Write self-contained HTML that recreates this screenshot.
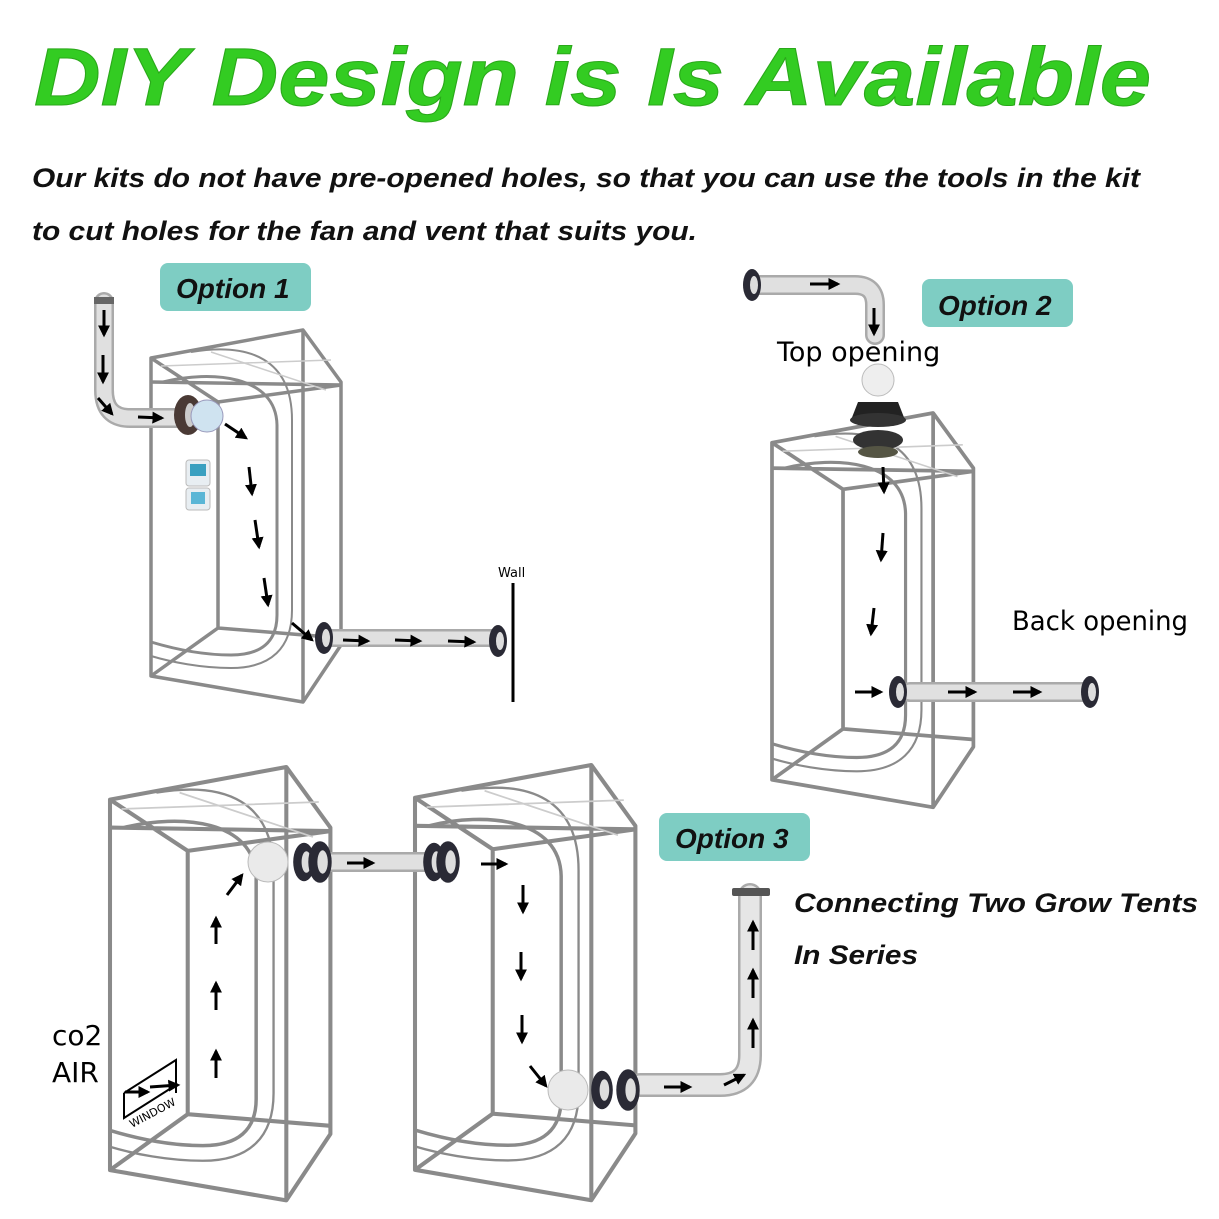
<!DOCTYPE html>
<html><head><meta charset="utf-8"><style>
body{margin:0;background:#fff;}
svg{display:block}
.t{font-family:"Liberation Sans",sans-serif;font-style:italic;font-weight:bold}
.n{font-family:"DejaVu Sans","Liberation Sans",sans-serif}
</style></head><body>
<svg width="1219" height="1219" viewBox="0 0 1219 1219" xmlns="http://www.w3.org/2000/svg">
<defs>
<marker id="a" viewBox="0 0 10 10" refX="8" refY="5" markerWidth="4" markerHeight="4" orient="auto"><path d="M0,0L10,5L0,10Z" fill="#000"/></marker>
<g id="tent" fill="none" stroke="#8a8a8a" stroke-width="3.5" stroke-linejoin="round">
<path d="M0,28 L152,0 L190,52 L190,315 L152,372 L0,346 Z"/>
<path d="M152,0 V372"/>
<path d="M67,72 V298 L190,308 M67,72 L190,55 M0,346 L67,298 M0,28 L67,72 M0,52 L190,55"/>
<path d="M12,52 C60,40 125,45 126,95 V285 C126,312 110,325 80,325 C50,325 20,318 0,312" stroke-width="3"/>
<path d="M40,22 C100,12 141,30 141,90 V280 C141,318 120,338 80,338 C50,338 20,332 0,326" stroke-width="2"/>
<path d="M10,36 L180,30 M60,22 L175,60" stroke="#ccc" stroke-width="1.5"/>
</g>
<g id="fl"><ellipse cx="0" cy="0" rx="9" ry="16" fill="#2a2a35"/><ellipse cx="2" cy="0" rx="4" ry="9" fill="#ddd"/></g>
</defs>

<text x="34" y="105" class="t" font-size="82" fill="#33cc22" stroke="#2aa81a" stroke-width="1" textLength="1117" lengthAdjust="spacingAndGlyphs">DIY Design is Is Available</text>
<text x="32" y="187" class="t" font-size="27" fill="#111" textLength="1108" lengthAdjust="spacingAndGlyphs">Our kits do not have pre-opened holes, so that you can use the tools in the kit</text>
<text x="32" y="240" class="t" font-size="27" fill="#111" textLength="665" lengthAdjust="spacingAndGlyphs">to cut holes for the fan and vent that suits you.</text>

<rect x="160" y="263" width="151" height="48" rx="8" fill="#7ecdc3"/>
<text x="176" y="298" class="t" font-size="28" fill="#111">Option 1</text>
<rect x="922" y="279" width="151" height="48" rx="8" fill="#7ecdc3"/>
<text x="938" y="315" class="t" font-size="28" fill="#111">Option 2</text>
<rect x="659" y="813" width="151" height="48" rx="8" fill="#7ecdc3"/>
<text x="675" y="848" class="t" font-size="28" fill="#111">Option 3</text>

<use href="#tent" transform="translate(151,330)"/>
<use href="#tent" transform="translate(772,413) scale(1.06,1.06)"/>
<use href="#tent" transform="translate(110,767) scale(1.16,1.165)"/>
<use href="#tent" transform="translate(415,765) scale(1.16,1.17)"/>

<!-- ducts -->
<g fill="none" stroke-linecap="round">
<path d="M104,302 V390 Q104,418 130,418 H185" stroke="#aaa" stroke-width="20"/>
<path d="M104,302 V390 Q104,418 130,418 H185" stroke="#e0e0e0" stroke-width="15"/>
<path d="M330,638 H495" stroke="#aaa" stroke-width="18"/><path d="M330,638 H495" stroke="#e0e0e0" stroke-width="13"/>
<path d="M760,285 H855 Q875,285 875,305 V335" stroke="#aaa" stroke-width="20"/><path d="M760,285 H855 Q875,285 875,305 V335" stroke="#e0e0e0" stroke-width="15"/>
<path d="M910,692 H1088" stroke="#aaa" stroke-width="20"/><path d="M910,692 H1088" stroke="#e0e0e0" stroke-width="15"/>
<path d="M330,862 H430" stroke="#aaa" stroke-width="20"/><path d="M330,862 H430" stroke="#e0e0e0" stroke-width="15"/>
<path d="M640,1085 H720 Q750,1085 750,1055 V895" stroke="#aaa" stroke-width="24"/><path d="M640,1085 H720 Q750,1085 750,1055 V895" stroke="#e6e6e6" stroke-width="19"/>
</g>
<rect x="94" y="297" width="20" height="7" fill="#666"/>
<rect x="732" y="888" width="38" height="8" rx="2" fill="#555"/>

<!-- fittings -->
<ellipse cx="188" cy="415" rx="14" ry="20" fill="#4a3a35"/><ellipse cx="190" cy="415" rx="5" ry="12" fill="#ccc"/>
<circle cx="207" cy="416" r="16" fill="#cfe3f0" stroke="#99b" />
<use href="#fl" transform="translate(324,638)"/><use href="#fl" transform="translate(498,641)"/>
<line x1="513" y1="583" x2="513" y2="702" stroke="#000" stroke-width="3"/>
<text x="498" y="577" class="n" font-size="13">Wall</text>
<rect x="186" y="460" width="24" height="26" rx="3" fill="#e8eef2" stroke="#bbb"/><rect x="190" y="464" width="16" height="12" fill="#3aa0c0"/>
<rect x="186" y="488" width="24" height="22" rx="3" fill="#e8eef2" stroke="#bbb"/><rect x="191" y="492" width="14" height="12" fill="#5ab6d6"/>

<use href="#fl" transform="translate(752,285)"/>
<ellipse cx="878" cy="380" rx="16" ry="16" fill="#eee" stroke="#bbb"/>
<path d="M858,402 H898 L905,420 H851 Z" fill="#222"/><ellipse cx="878" cy="420" rx="28" ry="7" fill="#333"/>
<ellipse cx="878" cy="440" rx="25" ry="10" fill="#333"/><ellipse cx="878" cy="452" rx="20" ry="6" fill="#554"/>
<use href="#fl" transform="translate(898,692)"/><use href="#fl" transform="translate(1090,692)"/>

<circle cx="268" cy="862" r="20" fill="#eaeaea" stroke="#bbb"/>
<use href="#fl" transform="translate(304,862) scale(1.2)"/><use href="#fl" transform="translate(320,862) scale(1.3)"/>
<use href="#fl" transform="translate(434,862) scale(1.2)"/><use href="#fl" transform="translate(448,862) scale(1.3)"/>
<circle cx="568" cy="1090" r="20" fill="#eaeaea" stroke="#bbb"/>
<use href="#fl" transform="translate(602,1090) scale(1.2)"/><use href="#fl" transform="translate(628,1090) scale(1.3)"/>

<!-- arrows -->
<g stroke="#000" stroke-width="3" marker-end="url(#a)">
<line x1="104" y1="310" x2="104" y2="335"/><line x1="103" y1="355" x2="103" y2="382"/><line x1="98" y1="398" x2="112" y2="414"/>
<line x1="138" y1="417" x2="162" y2="418"/>
<line x1="225" y1="424" x2="246" y2="438"/><line x1="249" y1="467" x2="252" y2="494"/><line x1="255" y1="520" x2="259" y2="547"/><line x1="264" y1="578" x2="268" y2="605"/>
<line x1="292" y1="623" x2="312" y2="640"/>
<line x1="343" y1="640" x2="368" y2="641"/><line x1="395" y1="640" x2="420" y2="641"/><line x1="448" y1="641" x2="474" y2="642"/>
<line x1="810" y1="284" x2="838" y2="284"/><line x1="874" y1="308" x2="874" y2="334"/>
<line x1="883" y1="467" x2="884" y2="492"/><line x1="883" y1="533" x2="881" y2="560"/><line x1="874" y1="608" x2="871" y2="634"/>
<line x1="855" y1="692" x2="881" y2="692"/>
<line x1="948" y1="692" x2="975" y2="692"/><line x1="1013" y1="692" x2="1040" y2="692"/>
<line x1="216" y1="944" x2="216" y2="918"/><line x1="216" y1="1010" x2="216" y2="983"/><line x1="216" y1="1078" x2="216" y2="1051"/>
<line x1="227" y1="895" x2="242" y2="875"/>
<line x1="125" y1="1092" x2="148" y2="1092"/><line x1="150" y1="1087" x2="178" y2="1085"/>
<line x1="347" y1="863" x2="373" y2="863"/><line x1="481" y1="864" x2="506" y2="864"/>
<line x1="523" y1="885" x2="523" y2="912"/><line x1="521" y1="952" x2="521" y2="979"/><line x1="522" y1="1015" x2="522" y2="1042"/>
<line x1="530" y1="1066" x2="546" y2="1086"/>
<line x1="664" y1="1087" x2="690" y2="1087"/><line x1="724" y1="1085" x2="744" y2="1075"/>
<line x1="753" y1="950" x2="753" y2="922"/><line x1="753" y1="998" x2="753" y2="970"/><line x1="753" y1="1048" x2="753" y2="1020"/>
</g>

<!-- window -->
<path d="M124,1093 L176,1060 V1093 M124,1093 V1118 L176,1085" fill="none" stroke="#000" stroke-width="2"/>
<text x="132" y="1128" class="n" font-size="11" transform="rotate(-28 132 1128)">WINDOW</text>

<text x="777" y="361" class="n" font-size="27">Top opening</text>
<text x="1012" y="630" class="n" font-size="27" textLength="176" lengthAdjust="spacingAndGlyphs">Back opening</text>
<text x="52" y="1045" class="n" font-size="28">co2</text>
<text x="52" y="1082" class="n" font-size="28">AIR</text>
<text x="794" y="912" class="t" font-size="27" fill="#111" textLength="404" lengthAdjust="spacingAndGlyphs">Connecting Two Grow Tents</text>
<text x="794" y="964" class="t" font-size="27" fill="#111" textLength="124" lengthAdjust="spacingAndGlyphs">In Series</text>
</svg>
</body></html>
